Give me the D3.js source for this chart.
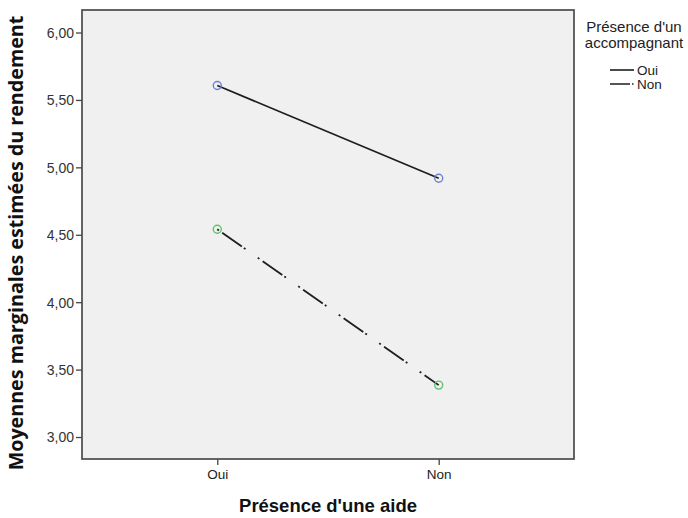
<!DOCTYPE html>
<html><head><meta charset="utf-8">
<script src="https://cdn.jsdelivr.net/npm/d3@7"></script>
<style>body{margin:0;background:#fff}svg{display:block}</style>
</head><body>
<svg id="c" width="688" height="518"></svg>
<script>
const categories = ["Oui", "Non"];            // Présence d'une aide
const seriesNames = ["Oui", "Non"];           // Présence d'un accompagnant
const valuesOui = [5.607, 4.919];
const valuesNon = [4.541, 3.385];
const yTicks = [3.0, 3.5, 4.0, 4.5, 5.0, 5.5, 6.0];
const seriesColors = ["#6f7fd0", "#5cc466"];

const svg = d3.select("#c");
const L = 82, R = 574, T = 10, B = 459;
const x = d3.scalePoint().domain(categories).range([L, R]).padding(0.611);
const y = d3.scaleLinear().domain([2.837, 6.167]).range([B, T]);
const fmt = d => d3.format(".2f")(d).replace(".", ",");

svg.append("rect").attr("x", L).attr("y", T).attr("width", R - L).attr("height", B - T)
  .attr("fill", "#f0f0f0");

// Y axis
const ya = svg.append("g").attr("transform", `translate(${L},0)`)
  .call(d3.axisLeft(y).tickValues(yTicks).tickFormat(fmt).tickSize(6).tickPadding(2));
ya.select(".domain").remove();
ya.selectAll("line").attr("stroke", "#444").attr("stroke-width", 1.3);
ya.selectAll("text").attr("font-family", "Liberation Sans, Arial, sans-serif")
  .attr("font-size", 14).attr("fill", "#333").attr("dy", "0.35em");

// X axis
const xa = svg.append("g").attr("transform", `translate(0,${B})`)
  .call(d3.axisBottom(x).tickSize(6).tickPadding(4));
xa.select(".domain").remove();
xa.selectAll("line").attr("stroke", "#444").attr("stroke-width", 1.3);
xa.selectAll("text").attr("font-family", "Liberation Sans, Arial, sans-serif")
  .attr("font-size", 13.5).attr("fill", "#222");

// frame
svg.append("rect").attr("x", L).attr("y", T).attr("width", R - L).attr("height", B - T)
  .attr("fill", "none").attr("stroke", "#4a4a4a").attr("stroke-width", 1.7);

const series = [
  {name: seriesNames[0], vals: valuesOui, dash: null, color: seriesColors[0]},
  {name: seriesNames[1], vals: valuesNon, dash: "2,4,24,2.5,2,15", color: seriesColors[1]}
];
const line = d3.line().x((d, i) => x(categories[i])).y(d => y(d));
series.forEach(s => {
  svg.append("path").attr("d", line(s.vals)).attr("fill", "none")
    .attr("stroke", "#1e1e1e").attr("stroke-width", 1.8)
    .attr("stroke-dasharray", s.dash);
  svg.selectAll(null).data(s.vals).enter().append("circle")
    .attr("cx", (d, i) => x(categories[i])).attr("cy", d => y(d)).attr("r", 4)
    .attr("fill", "none").attr("stroke", s.color).attr("stroke-width", 1.4);
});

// Titles
const xt = svg.append("text").attr("x", (L + R) / 2).attr("y", 512).attr("text-anchor", "middle")
  .attr("font-family", "Liberation Sans, Arial, sans-serif").attr("font-weight", "bold")
  .attr("font-size", 17).attr("fill", "#111").text("Présence d'une aide");
xt.attr("font-size", 17 * 178 / xt.node().getComputedTextLength());
const yt = svg.append("text").attr("transform", "translate(23,243) rotate(-90)")
  .attr("text-anchor", "middle").attr("font-family", "Open Sans, sans-serif")
  .attr("font-weight", "bold").attr("font-size", 17).attr("fill", "#111")
  .text("Moyennes marginales estimées du rendement");
const len = yt.node().getComputedTextLength();
yt.attr("font-size", 17 * 455 / len);

// Legend
const lg = svg.append("g").attr("font-family", "Liberation Sans, Arial, sans-serif")
  .attr("fill", "#222");
lg.append("text").attr("x", 634).attr("y", 32).attr("text-anchor", "middle")
  .attr("font-size", 15).text("Présence d'un");
lg.append("text").attr("x", 634).attr("y", 48).attr("text-anchor", "middle")
  .attr("font-size", 15).text("accompagnant");
series.forEach((s, i) => {
  const yy = 70 + i * 14;
  lg.append("line").attr("x1", 610).attr("x2", 634).attr("y1", yy).attr("y2", yy)
    .attr("stroke", "#1e1e1e").attr("stroke-width", 1.6)
    .attr("stroke-dasharray", s.dash ? "20,2,1.5,10" : null);
  lg.append("text").attr("x", 637).attr("y", yy).attr("dy", "0.35em")
    .attr("font-size", 13.5).text(s.name);
});
</script>
</body></html>
